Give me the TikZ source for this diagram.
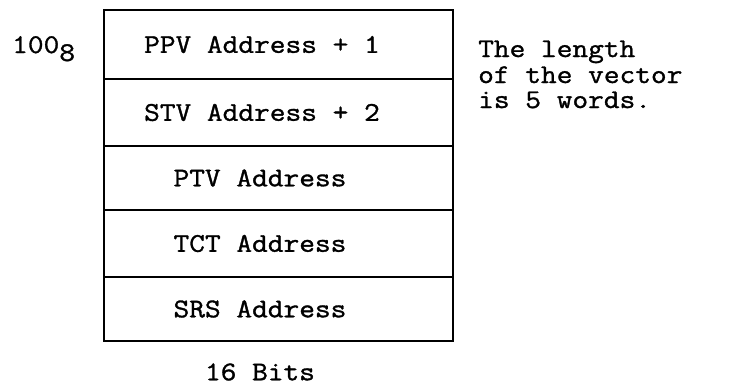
\documentclass[tikz,border=0pt]{standalone}
\usepackage{fontspec}
\setmonofont{Latin Modern Mono}[FakeStretch=1.13,FakeBold=1.2]
\begin{document}
\begin{tikzpicture}[x=1pt,y=-1pt,
  cell/.style={draw=black,line width=1.4pt,minimum width=349pt,inner sep=0pt,outer sep=0pt},
  txt/.style={inner sep=0pt,font=\ttfamily\fontsize{27}{26}\selectfont},
  note/.style={inner sep=0pt,anchor=base west,font=\ttfamily\fontsize{27}{26}\selectfont}]
\useasboundingbox (0,0) rectangle (732,389);
\node[cell,minimum height=69pt] (r1) at (278.5,44.5) {};
\node[cell,minimum height=67pt] (r2) at (278.5,112.5) {};
\node[cell,minimum height=64pt] (r3) at (278.5,178) {};
\node[cell,minimum height=67pt] (r4) at (278.5,243.5) {};
\node[cell,minimum height=64pt] (r5) at (278.5,309) {};
\node[txt] (t1) at (262,44.5) {PPV Address + 1};
\node[txt] (t2) at (262,112.5) {STV Address + 2};
\node[txt] (t3) at (260,178) {PTV Address};
\node[txt] (t4) at (260,243.5) {TCT Address};
\node[txt] (t5) at (260,309) {SRS Address};
\node[txt] (bits) at (260,372) {16 Bits};
\node[note] (addr) at (12,53) {100\raisebox{-8pt}{8}};
\node[note] (n1) at (478,57) {The length};
\node[note] (n2) at (478,83) {of the vector};
\node[note] (n3) at (478,108) {is 5 words.};
\end{tikzpicture}
\end{document}
